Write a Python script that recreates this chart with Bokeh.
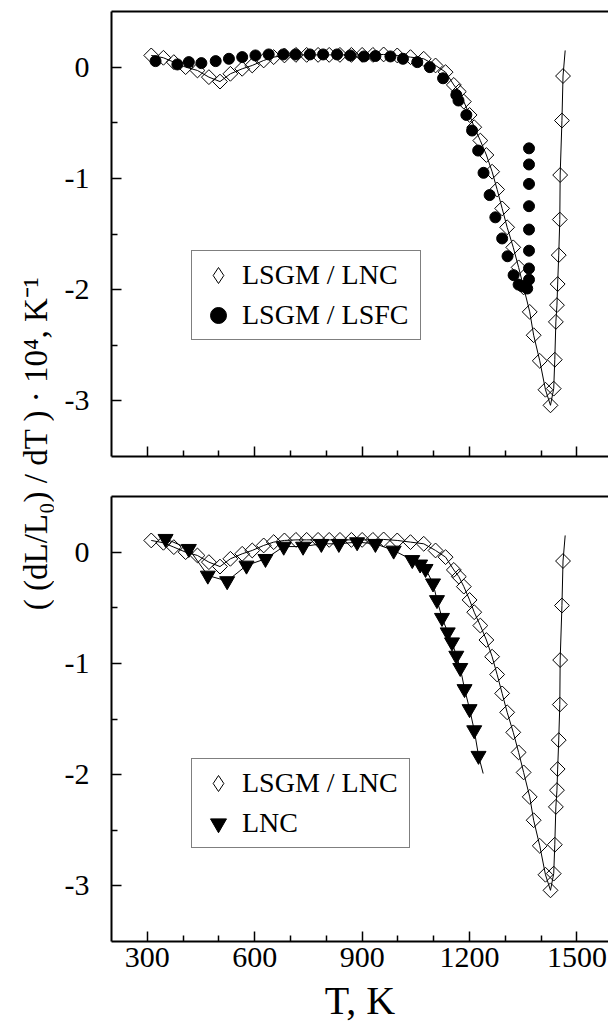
from math import pi
from bokeh.plotting import figure
from bokeh.models import (FixedTicker, LinearAxis, Range1d, Legend, LegendItem, Label)
from bokeh.layouts import row, column
from bokeh.embed import file_html
from bokeh.resources import INLINE

# ---------------- data ----------------
# LSGM / LNC (open diamonds) - same series in both panels
lnc_T = [311, 345, 374, 407, 440, 472, 503, 532, 565, 593, 625, 653, 683,
         715, 745, 777, 808, 838, 870, 900, 930, 960, 998, 1035, 1072, 1105, 1133,
         1156, 1170, 1184, 1200, 1213, 1230, 1247, 1263, 1277, 1291, 1305, 1322,
         1337, 1351, 1368, 1379, 1396, 1412, 1426,
         1435, 1438, 1441, 1444, 1446, 1449, 1452, 1453, 1458, 1461]
lnc_v = [0.105, 0.084, 0.045, 0.0, -0.03, -0.09, -0.13, -0.06, -0.015, 0.015, 0.06, 0.09, 0.105,
         0.11, 0.11, 0.11, 0.11, 0.11, 0.11, 0.11, 0.11, 0.114, 0.105, 0.09, 0.075, 0.015, -0.045,
         -0.16, -0.22, -0.31, -0.43, -0.54, -0.66, -0.79, -0.94, -1.10, -1.27, -1.44, -1.62,
         -1.80, -1.98, -2.20, -2.41, -2.64, -2.90, -3.04,
         -2.89, -2.63, -2.29, -2.14, -1.95, -1.69, -1.37, -0.97, -0.48, -0.08]
# end of the fitted curve beyond the last diamond
lnc_fit_end_T = [1467]
lnc_fit_end_v = [0.15]

# LSGM / LSFC (filled circles) - top panel
lsfc_T = [323, 384, 416, 451, 491, 528, 565, 602, 639, 680, 714, 754, 791, 830,
          867, 905, 937, 979, 1014, 1054, 1089,
          1126, 1163, 1169, 1191, 1207, 1224, 1239, 1256, 1272, 1291, 1306, 1323, 1337, 1347, 1361,
          1366, 1366, 1366, 1366, 1366, 1366, 1366, 1366]
lsfc_v = [0.054, 0.024, 0.045, 0.036, 0.054, 0.075, 0.09, 0.105, 0.114, 0.114, 0.114, 0.114, 0.114, 0.114,
          0.105, 0.096, 0.1, 0.096, 0.075, 0.045, 0.0,
          -0.10, -0.25, -0.30, -0.43, -0.57, -0.75, -0.95, -1.15, -1.35, -1.54, -1.70, -1.87, -1.955, -1.97, -1.99,
          -1.91, -1.81, -1.65, -1.46, -1.25, -1.05, -0.875, -0.73]

# LNC (filled down triangles) - bottom panel
lncs_T = [351, 416, 469, 523, 577, 630, 681, 735, 786, 835, 886, 937, 988, 1040,
          1062, 1077, 1098, 1109, 1123, 1139, 1151, 1163, 1174, 1186, 1200, 1213, 1225]
lncs_v = [0.12, 0.03, -0.21, -0.26, -0.12, -0.06, 0.05, 0.05, 0.075, 0.075, 0.09, 0.075, 0.015, -0.07,
          -0.11, -0.15, -0.28, -0.43, -0.59, -0.72, -0.81, -0.93, -1.04, -1.23, -1.41, -1.60, -1.83]
lncs_fit_end_T = [1238]
lncs_fit_end_v = [-1.99]

x_ticks = [300, 600, 900, 1200, 1500]
x_minor = [400, 500, 700, 800, 1000, 1100, 1300, 1400]
y_ticks = [0, -1, -2, -3]
y_minor = [-0.5, -1.5, -2.5]
y_tick_labels = {0: "0", -1: "-1", -2: "-2", -3: "-3"}

X_RANGE = (200, 1588)
Y_RANGE = (-3.5, 0.5)
FONT = "Liberation Serif"


def style_axis(ax):
    ax.axis_line_width = 2
    ax.axis_line_color = "black"
    ax.major_tick_in = 10
    ax.major_tick_out = 0
    ax.minor_tick_in = 6
    ax.minor_tick_out = 0
    ax.major_tick_line_width = 1.5
    ax.minor_tick_line_width = 1.5
    ax.major_tick_line_color = "black"
    ax.minor_tick_line_color = "black"
    ax.major_label_text_font = FONT
    ax.major_label_text_font_size = "30px"
    ax.major_label_text_font_style = "normal"
    ax.major_label_text_color = "black"


def make_panel(height, border_top, border_bottom, show_x_labels):
    p = figure(width=554, height=height, output_backend="svg", toolbar_location=None,
               x_range=Range1d(*X_RANGE), y_range=Range1d(*Y_RANGE),
               min_border_left=57, min_border_right=0,
               min_border_top=border_top, min_border_bottom=border_bottom)
    p.outline_line_color = None
    p.xgrid.visible = False
    p.ygrid.visible = False
    p.background_fill_color = "white"
    p.border_fill_color = "white"

    xa = p.xaxis[0]
    xa.ticker = FixedTicker(ticks=x_ticks, minor_ticks=x_minor)
    style_axis(xa)
    if show_x_labels:
        xa.major_label_standoff = 6
        xa.axis_label = "T, K"
        xa.axis_label_text_font = FONT
        xa.axis_label_text_font_size = "40px"
        xa.axis_label_text_font_style = "normal"
        xa.axis_label_text_color = "black"
        xa.axis_label_standoff = 8
    else:
        xa.major_label_overrides = {t: "" for t in x_ticks}

    ya = p.yaxis[0]
    ya.ticker = FixedTicker(ticks=y_ticks, minor_ticks=y_minor)
    style_axis(ya)
    ya.major_label_overrides = y_tick_labels
    ya.major_label_standoff = 22

    top = LinearAxis(ticker=FixedTicker(ticks=[]), axis_line_width=2, axis_line_color="black",
                     major_tick_in=0, major_tick_out=0, minor_tick_in=0, minor_tick_out=0,
                     major_label_standoff=0)
    p.add_layout(top, "above")
    return p


def add_lnc(p):
    p.line(lnc_T + lnc_fit_end_T, lnc_v + lnc_fit_end_v, line_color="black", line_width=1)
    p.scatter(lnc_T, lnc_v, marker="square", angle=pi / 4, size=10.5,
              fill_color=None, line_color="black", line_width=1)
    # legend-only glyph (no visible point)
    dummy = p.scatter(x=[float("nan")], y=[float("nan")], marker="diamond", fill_color=None,
                      line_color="black", line_width=1)
    return dummy


def make_legend(items, loc, label_width):
    return Legend(items=items, location=loc, orientation="vertical",
                  border_line_color="black", border_line_width=1.2,
                  background_fill_color="white", background_fill_alpha=1,
                  label_text_font=FONT, label_text_font_size="28px",
                  label_text_font_style="normal", label_text_color="black",
                  glyph_width=44, glyph_height=40, label_height=33,
                  label_standoff=2, spacing=0, padding=4, margin=0,
                  label_width=label_width)


# ---------------- top panel ----------------
p1 = make_panel(486, 11, 30, False)
d1 = add_lnc(p1)
c1 = p1.scatter(lsfc_T, lsfc_v, marker="circle", size=11, fill_color="black", line_color="black")
p1.add_layout(make_legend([LegendItem(label="LSGM / LNC", renderers=[d1]),
                           LegendItem(label="LSGM / LSFC", renderers=[c1])],
                          (80, 116), 174), "center")

# ---------------- bottom panel ----------------
p2 = make_panel(541, 10, 86, True)
d2 = add_lnc(p2)
p2.line(lncs_T + lncs_fit_end_T, lncs_v + lncs_fit_end_v, line_color="black", line_width=1)
t2 = p2.scatter(lncs_T, lncs_v, marker="inverted_triangle", size=15,
                fill_color="black", line_color="black")
p2.add_layout(make_legend([LegendItem(label="LSGM / LNC", renderers=[d2]),
                           LegendItem(label="LNC", renderers=[t2])],
                          (80, 93), 163), "center")

# ---------------- shared y label ----------------
lab = figure(width=54, height=1027, output_backend="svg", toolbar_location=None,
             x_axis_type=None, y_axis_type=None, min_border=0,
             x_range=Range1d(0, 1), y_range=Range1d(0, 1))
lab.outline_line_color = None
lab.xgrid.visible = False
lab.ygrid.visible = False
lab.add_layout(Label(x=35, y=1027 - 443, x_units="screen", y_units="screen",
                     text="( (dL/L\u2080) / dT ) \u00b7 10\u2074, K\u207b\u00b9",
                     angle=pi / 2, text_align="center", text_baseline="middle",
                     text_font=FONT, text_font_size="33px", text_font_style="normal",
                     text_color="black"))

layout = row(lab, column(p1, p2, spacing=0), spacing=0)
open("out.html", "w").write(file_html(layout, INLINE))
